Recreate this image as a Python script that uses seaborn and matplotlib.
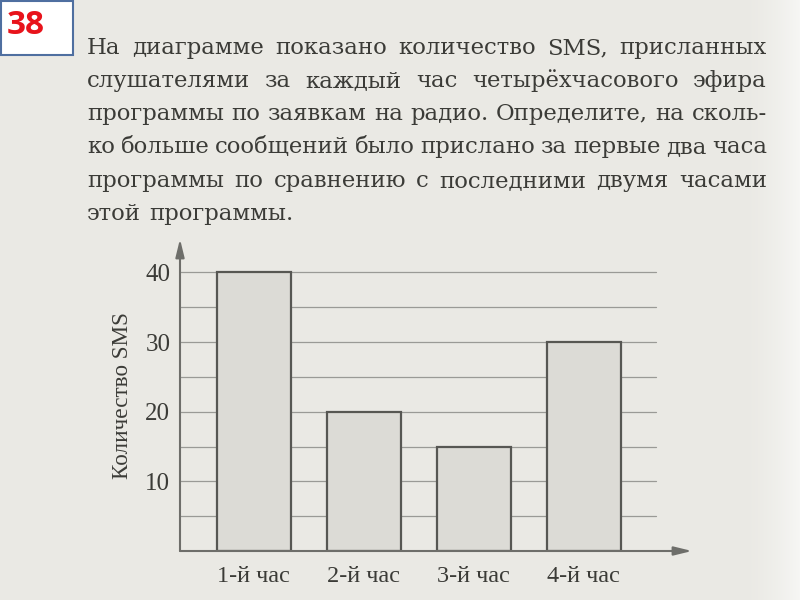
import matplotlib
matplotlib.use("Agg")
import matplotlib.pyplot as plt
from matplotlib.patches import Rectangle
import seaborn as sns
import numpy as np
import pandas as pd

# ---- data ----
hours = ["1-й час", "2-й час", "3-й час", "4-й час"]
sms_counts = [40, 20, 15, 30]
y_ticks = [10, 20, 30, 40]
y_label = "Количество SMS"
badge = "38"
paragraph_lines = [
    "На диаграмме показано количество SMS, присланных",
    "слушателями за каждый час четырёхчасового эфира",
    "программы по заявкам на радио. Определите, на сколь-",
    "ко больше сообщений было прислано за первые два часа",
    "программы по сравнению с последними двумя часами",
    "этой программы.",
]

df = pd.DataFrame({"hour": hours, "sms": sms_counts})

sns.set_theme(style="white")
plt.rcParams["font.family"] = ["Liberation Serif", "DejaVu Serif"]

W, H = 800, 600
paper = "#eae9e4"
ink = "#3b3b37"
fig = plt.figure(figsize=(8, 6), dpi=100, facecolor=paper)

# subtle lighter right edge like the scanned page
grad = np.linspace(0, 1, 60)[None, :] ** 1.5
ax_bg = fig.add_axes([(W - 60) / W, 0, 60 / W, 1], zorder=-5)
ax_bg.imshow(grad, aspect="auto", cmap=matplotlib.colors.LinearSegmentedColormap.from_list(
    "p", [paper, "#f6f6f4"]), extent=[0, 1, 0, 1])
ax_bg.set_axis_off()

# ---- chart axes ----
x0, x1 = 180, 692
ybot, ytop = 551, 239
ax = fig.add_axes([x0 / W, (H - ybot) / H, (x1 - x0) / W, (ybot - ytop) / H])
ax.set_facecolor("none")

sns.barplot(data=df, x="hour", y="sms", ax=ax, color="#dcdbd6", saturation=1,
            edgecolor="#575753", linewidth=1.6, width=0.67, zorder=3)

ax.set_xlim(-0.67, 3.985)
ax.set_ylim(0, 44.8)

for gy in np.arange(5, 45, 5):
    ax.axhline(gy, xmin=0, xmax=0.93, color="#9a9a96", lw=0.9, zorder=1)

for s in ax.spines.values():
    s.set_visible(False)
arrow_kw = dict(arrowstyle="-|>,head_length=0.9,head_width=0.22", color="#6e6e6a", lw=1.5,
                shrinkA=0, shrinkB=0)
ax.annotate("", xy=(0, 1), xytext=(0, 0), xycoords="axes fraction",
            textcoords="axes fraction", arrowprops=arrow_kw, zorder=5)
ax.annotate("", xy=(1, 0), xytext=(0, 0), xycoords="axes fraction",
            textcoords="axes fraction", arrowprops=arrow_kw, zorder=5)

ax.set_yticks(y_ticks)
ax.set_yticklabels([str(t) for t in y_ticks])
ax.tick_params(axis="y", length=0, pad=7, labelsize=18, labelcolor=ink)
ax.tick_params(axis="x", length=0, pad=11, labelsize=17.5, labelcolor=ink)
ax.set_xlabel("")
ax.set_ylabel(y_label, fontsize=16.7, color=ink)
ax.yaxis.label.set_va("center")
ax.yaxis.set_label_coords((122 - x0) / (x1 - x0), (ybot - 396) / (ybot - ytop))

# ---- badge ----
fig.patches.append(Rectangle((1 / W, (H - 55) / H), 72 / W, 54 / H, transform=fig.transFigure,
                             facecolor="white", edgecolor="#4f6fa0", lw=1.5))
fig.text(26 / W, 1 - 26 / H, badge, ha="center", va="center", fontsize=24,
         fontweight="bold", color="#e8131b", family=["Open Sans", "DejaVu Sans"])

# ---- justified paragraph ----
renderer = fig.canvas.get_renderer()
left, right = 87, 767
baselines = [54, 87, 120, 153, 187, 220]
fs = 17.5
para_font = ["DejaVu Serif"]


def measure(word, size):
    t = fig.text(0, 0, word, fontsize=size, family=para_font)
    w = t.get_window_extent(renderer).width
    t.remove()
    return w


space = measure("a a", fs) - measure("aa", fs)
for i in range(len(paragraph_lines) - 1):
    words = paragraph_lines[i].split()
    tot = sum(measure(w, fs) for w in words) + space * 0.75 * (len(words) - 1)
    if tot > right - left:
        fs *= (right - left) / tot

for i, line in enumerate(paragraph_lines):
    words = line.split()
    widths = [measure(w, fs) for w in words]
    justify = i < len(paragraph_lines) - 1
    gap = (right - left - sum(widths)) / (len(words) - 1) if justify else measure(" ", fs) * 1.2
    x = left
    for w, wd in zip(words, widths):
        fig.text(x / W, 1 - baselines[i] / H, w, fontsize=fs, family=para_font,
                 color=ink, ha="left", va="baseline")
        x += wd + gap

fig.savefig("out.png", dpi=100, facecolor=paper)
